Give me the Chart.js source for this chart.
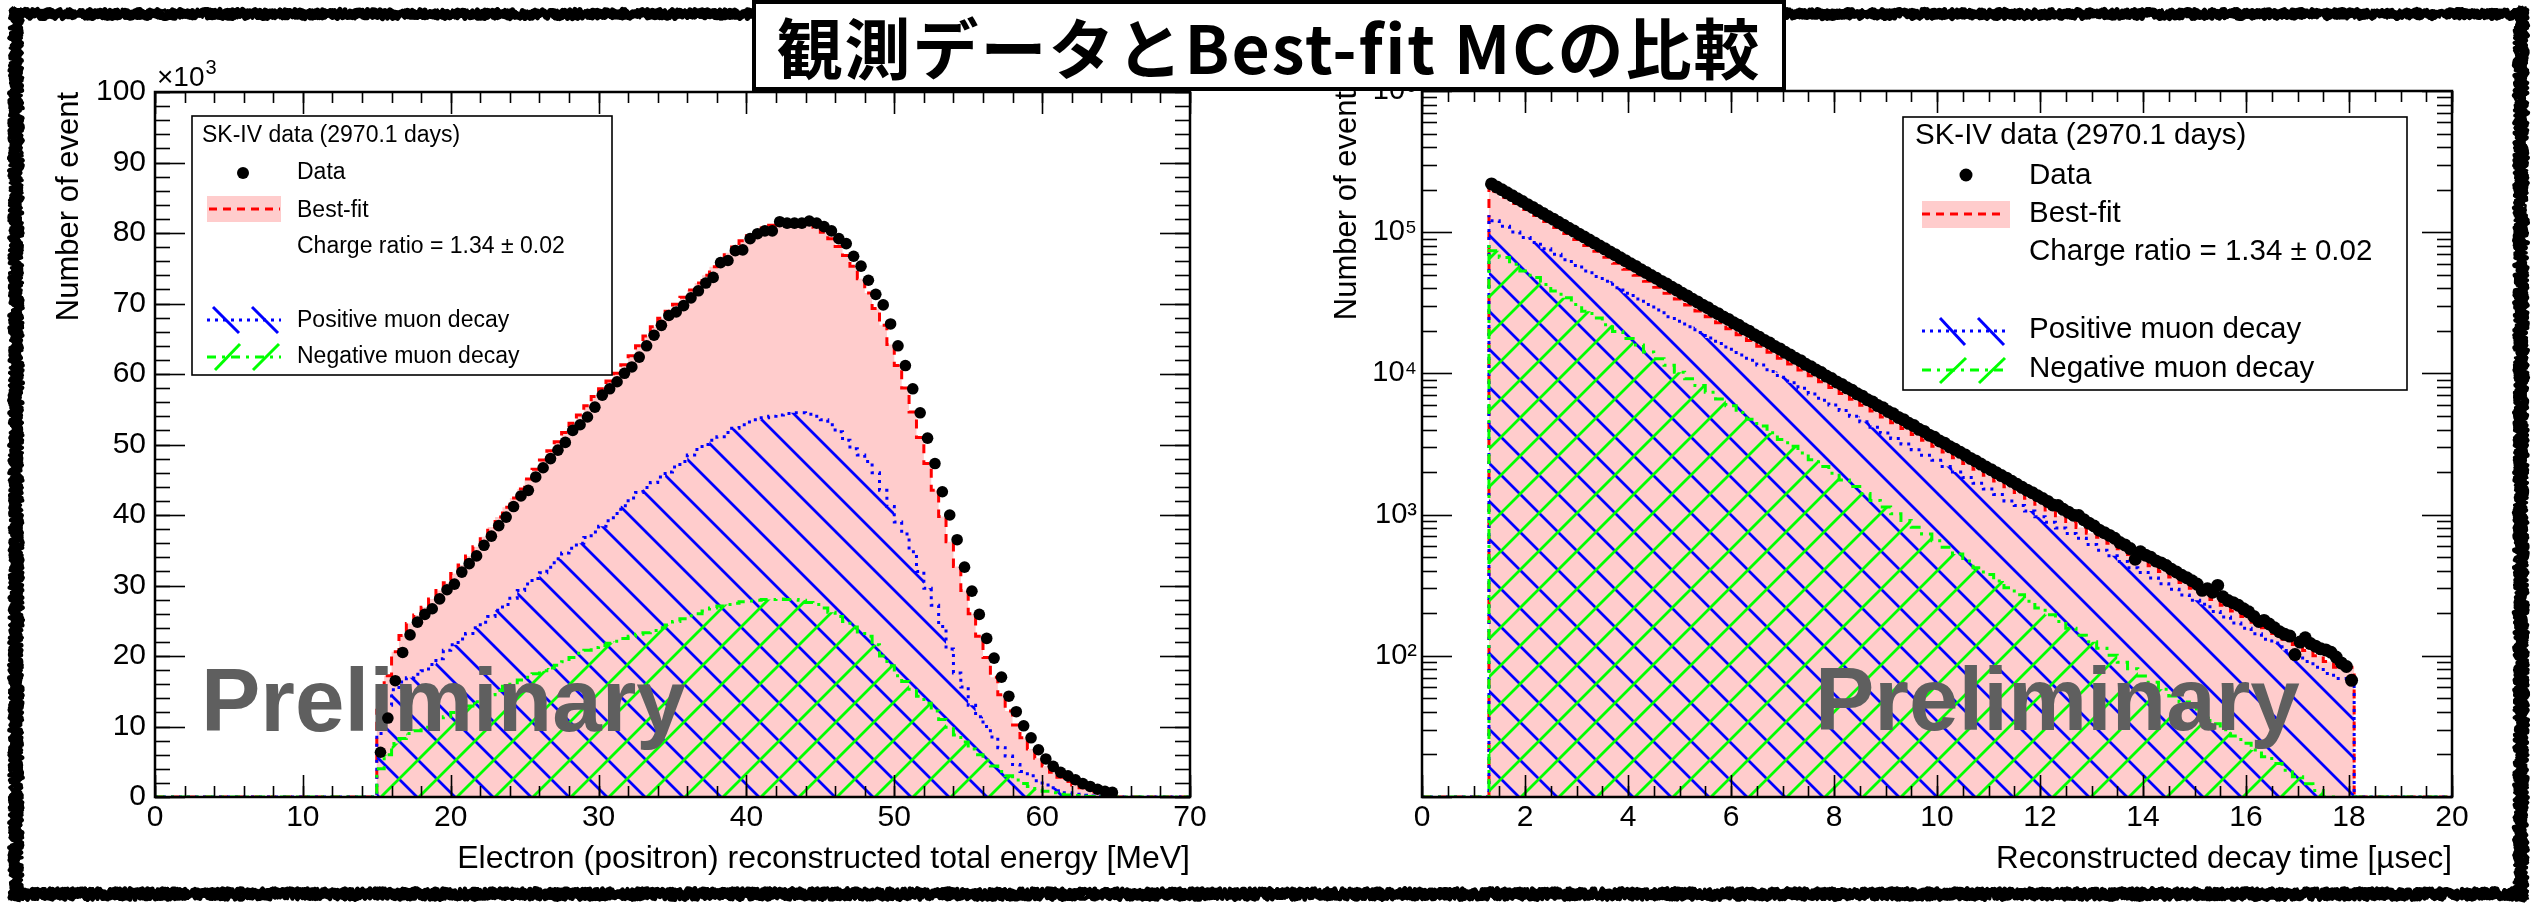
<!DOCTYPE html>
<html>
<head>
<meta charset="utf-8">
<script src="https://cdn.jsdelivr.net/npm/chart.js@4.4.1/dist/chart.umd.min.js"></script>
<style>
  html, body { margin: 0; padding: 0; background: #fff; }
  #page { position: relative; width: 2537px; height: 905px; overflow: hidden; background: #fff; }
  #page canvas { position: absolute; left: 0; top: 0; }
  #title {
    position: absolute; left: 752px; top: 0; width: 1026px; height: 83px;
    border: 4px solid #000; background: #fff; color: #000;
    font-family: 'Noto Sans CJK JP', sans-serif; font-weight: 700; font-size: 66px;
    line-height: 83px; text-align: center; white-space: nowrap; letter-spacing: 2px;
  }
</style>
</head>
<body>
<div id="page">
  <canvas id="frame" width="2537" height="905"></canvas>
  <canvas id="energyChart" width="2537" height="905"></canvas>
  <canvas id="timeChart" width="2537" height="905"></canvas>
  <div id="title">観測データとBest-fit MCの比較</div>
</div>
<script>
const FONT = "'Liberation Sans', Arial, sans-serif";

// left: electron energy, 0.5 MeV bins starting at 15 MeV, events in units of 10^3
const energyBinStart = 15;
const energyBinWidth = 0.5;
const energyData = [
  6.35, 11.2, 16.5, 20.5, 23.0, 24.8, 25.9, 26.7, 28.1, 29.4,
  30.2, 31.9, 33.1, 34.2, 35.7, 37.0, 38.5, 39.7, 41.2, 42.7,
  43.5, 45.4, 46.7, 48.0, 49.2, 50.3, 52.0, 52.8, 53.9, 55.3,
  57.0, 57.9, 58.9, 60.1, 61.0, 62.4, 64.0, 65.5, 66.9, 68.3,
  68.8, 69.7, 70.8, 71.8, 72.9, 73.7, 75.8, 76.1, 77.5, 77.6,
  79.2, 79.9, 80.3, 80.3, 81.6, 81.4, 81.4, 81.4, 81.7, 81.4,
  80.9, 80.3, 79.2, 78.5, 76.7, 75.3, 73.3, 71.3, 69.8, 67.1,
  64.0, 61.2, 57.9, 54.5, 50.9, 47.3, 43.3, 40.0, 36.5, 32.6,
  29.2, 25.9, 22.5, 19.7, 17.0, 14.3, 12.1, 10.1, 8.4, 6.7,
  5.4, 4.35, 3.5, 3.0, 2.45, 1.9, 1.5, 1.1, 0.8, 0.65
];
const energyBestFit = [
  5.9, 12.3, 17.2, 20.6, 22.9, 24.6, 25.8, 26.9, 28.1, 29.3,
  30.4, 31.7, 32.9, 34.2, 35.5, 36.9, 38.3, 39.7, 41.1, 42.4,
  43.7, 45.1, 46.5, 47.8, 49.1, 50.4, 51.7, 53.0, 54.2, 55.5,
  56.8, 57.9, 59.0, 60.1, 61.3, 62.6, 64.0, 65.4, 66.7, 67.9,
  68.9, 69.9, 70.9, 71.9, 72.9, 74.0, 75.2, 76.2, 77.2, 78.0,
  78.9, 79.6, 80.2, 80.7, 81.1, 81.4, 81.6, 81.7, 81.6, 81.3,
  80.8, 80.1, 79.2, 78.1, 76.8, 75.3, 73.5, 71.5, 69.3, 66.9,
  64.2, 61.2, 58.0, 54.6, 51.0, 47.3, 43.5, 39.8, 36.2, 32.7,
  29.3, 26.0, 22.8, 19.8, 17.0, 14.5, 12.2, 10.2, 8.4, 6.8,
  5.5, 4.4, 3.5, 2.8, 2.2, 1.7, 1.3, 1.0, 0.7, 0.5
];
const energyPositive = [
  4.5, 9.0, 13.0, 15.2, 16.3, 16.9, 17.4, 17.9, 18.8, 19.6,
  20.8, 21.6, 22.4, 23.2, 24.0, 24.8, 25.6, 26.5, 27.3, 28.2,
  29.3, 30.2, 31.0, 31.8, 32.6, 33.8, 34.6, 35.3, 36.0, 36.8,
  37.6, 38.4, 39.2, 40.2, 41.3, 42.4, 43.2, 43.9, 44.6, 45.4,
  46.1, 46.8, 47.6, 48.5, 49.3, 50.0, 50.6, 51.1, 51.7, 52.3,
  52.8, 53.2, 53.5, 53.8, 54.0, 54.2, 54.4, 54.5, 54.5, 54.3,
  54.0, 53.5, 52.8, 51.8, 50.6, 49.4, 48.5, 47.6, 46.0, 43.5,
  41.2, 39.0, 37.3, 34.8, 32.0, 29.6, 27.2, 24.2, 21.0, 17.6,
  15.6, 13.0, 11.4, 10.0, 8.5, 7.0, 5.8, 4.6, 3.6, 3.0,
  2.3, 1.7, 1.3, 0.9, 0.6, 0.4, 0.25, 0.15, 0.1, 0.05
];
const energyNegative = [
  2.5, 4.0, 6.0, 7.6, 8.3, 9.0, 9.4, 9.9, 10.5, 11.0,
  11.4, 12.0, 12.5, 12.9, 13.5, 14.0, 14.5, 15.1, 15.7, 16.2,
  16.6, 17.0, 17.5, 17.9, 18.3, 18.7, 19.2, 19.8, 20.4, 20.8,
  21.2, 21.5, 21.8, 22.1, 22.5, 22.8, 23.1, 23.3, 23.6, 24.0,
  24.4, 24.9, 25.3, 25.7, 26.0, 26.4, 26.8, 27.1, 27.3, 27.5,
  27.7, 27.8, 27.9, 28.0, 28.0, 28.1, 28.0, 28.0, 27.9, 27.6,
  27.3, 26.8, 26.2, 25.6, 24.9, 24.1, 23.4, 22.8, 21.6, 20.0,
  18.6, 17.2, 16.4, 15.3, 14.3, 13.3, 12.2, 11.0, 9.9, 8.8,
  7.8, 6.8, 6.0, 5.2, 4.4, 3.6, 3.0, 2.4, 1.9, 1.5,
  1.1, 0.8, 0.6, 0.4, 0.3, 0.2, 0.12, 0.08, 0.05, 0.03
];
const energyTicks = [0, 10, 20, 30, 40, 50, 60, 70];
const countTicks = [0, 10, 20, 30, 40, 50, 60, 70, 80, 90, 100];

// right: decay time; data in 0.1 usec bins, MC in 0.2 usec bins, both from 1.3 usec
const timeBinStart = 1.3;
const timeDataBinWidth = 0.1;
const timeMcBinWidth = 0.2;
const timeData = [
  219800, 209300, 199800, 190000, 181500, 172600, 164900, 156700, 149800, 142300,
  135900, 129200, 123600, 117400, 112200, 106600, 101900, 96800, 92500, 87900,
  84000, 79800, 76300, 72500, 69300, 65800, 62900, 59800, 57200, 54300,
  51900, 49300, 47200, 44800, 42900, 40700, 38900, 36900, 35400, 33500,
  32100, 30400, 29200, 27600, 26500, 25100, 24100, 22800, 21900, 20700,
  19900, 18800, 18000, 17100, 16400, 15500, 14900, 14100, 13500, 12800,
  12300, 11600, 11150, 10550, 10130, 9580, 9200, 8700, 8360, 7900,
  7600, 7170, 6900, 6510, 6270, 5920, 5700, 5370, 5170, 4880,
  4700, 4430, 4270, 4020, 3880, 3650, 3530, 3320, 3200, 3020,
  2900, 2760, 2640, 2500, 2400, 2280, 2170, 2080, 1980, 1890,
  1810, 1720, 1640, 1560, 1490, 1430, 1360, 1300, 1240, 1170,
  1160, 1090, 1040, 990, 984, 920, 870, 830, 776, 745,
  712, 680, 634, 610, 575, 483, 545, 516, 498, 470,
  455, 436, 410, 392, 372, 357, 340, 322, 291, 298,
  282, 315, 262, 246, 238, 228, 215, 205, 190, 175,
  178, 168, 158, 148, 142, 138, 102, 125, 134, 122,
  117, 112, 110, 106, 98, 89, 84, 67
];
const timeBestFit = [
  214700, 194600, 176400, 159900, 145000, 131500, 119200, 108100, 98100, 88900,
  80600, 73200, 66400, 60200, 54600, 49600, 45000, 40800, 37000, 33600,
  30550, 27700, 25150, 22880, 20700, 18780, 17130, 15540, 14100, 12800,
  11650, 10580, 9610, 8730, 7930, 7210, 6560, 5950, 5410, 4920,
  4475, 4070, 3690, 3360, 3054, 2776, 2525, 2300, 2091, 1897,
  1728, 1573, 1431, 1303, 1184, 1077, 980, 892, 811, 739,
  690, 628, 572, 522, 476, 434, 396, 361, 330, 301,
  274, 250, 228, 208, 190, 173, 158, 144, 131, 120,
  109, 100, 91, 83
];
const timePositive = [
  132100, 120600, 110100, 100500, 91800, 84500, 76500, 69800, 63800, 58200,
  53100, 48500, 44900, 40400, 36900, 33700, 30800, 28100, 25200, 23400,
  21400, 19500, 17800, 16300, 14800, 13500, 12400, 11450, 10300, 9400,
  8600, 7850, 7160, 6450, 5970, 5450, 4980, 4540, 4150, 3790,
  3460, 3160, 2880, 2630, 2430, 2190, 2000, 1830, 1670, 1520,
  1390, 1250, 1160, 1060, 966, 882, 805, 735, 680, 613,
  560, 511, 466, 420, 389, 355, 324, 296, 270, 247,
  232, 206, 188, 171, 157, 143, 131, 123, 109, 99,
  91, 83, 75, 69
];
const timeNegative = [
  82600, 74000, 66300, 59400, 53200, 47700, 42700, 38300, 34300, 30700,
  27500, 24700, 22100, 19800, 17700, 15900, 14200, 12700, 11400, 10200,
  9150, 8200, 7350, 6580, 5900, 5280, 4730, 4240, 3800, 3400,
  3050, 2730, 2450, 2190, 1960, 1760, 1580, 1410, 1260, 1130,
  1015, 909, 814, 730, 654, 586, 525, 470, 421, 377,
  338, 303, 271, 243, 218, 195, 175, 157, 140, 126,
  113, 101, 90, 81, 72, 65, 58, 52, 47, 42,
  37, 33, 30, 27, 24, 21.5, 19.3, 17.3, 15.5, 13.9,
  12.4, 11.1, 10, 9
];
const timeTicks = [0, 2, 4, 6, 8, 10, 12, 14, 16, 18, 20];
const logTicks = [1e2, 1e3, 1e4, 1e5, 1e6];
const logLabels = { 100: '10²', 1000: '10³', 10000: '10⁴', 100000: '10⁵', 1000000: '10⁶' };

const legendHeader = 'SK-IV data (2970.1 days)';
const legendItems = ['Data', 'Best-fit', 'Charge ratio = 1.34 ± 0.02', 'Positive muon decay', 'Negative muon decay'];

Chart.defaults.font.family = FONT;
Chart.defaults.color = '#000';

function range(a, b, step) {
  const out = [];
  for (let v = a; v <= b + 1e-9; v += step) out.push(+v.toFixed(6));
  return out;
}

function logMinor(lo, hi) {
  const out = [];
  for (let d = lo; d < hi; d *= 10) for (let m = 2; m <= 9; m++) out.push(m * d);
  return out;
}

// histogram outline as a stepped line: along the floor, up the first edge, across the bins, down the last edge
function stepData(start, width, values, lo, hi, floor) {
  const pts = [{ x: lo, y: floor }, { x: start, y: floor }];
  values.forEach((v, i) => pts.push({ x: start + i * width, y: v }));
  const end = start + values.length * width;
  pts.push({ x: end, y: values[values.length - 1] }, { x: end, y: floor }, { x: hi, y: floor });
  return pts;
}

function pointData(start, width, values) {
  return values.map((v, i) => ({ x: start + (i + 0.5) * width, y: v }));
}

function hatch(canvasId, color, dir) {
  const s = 38;
  const tile = document.createElement('canvas');
  tile.width = s; tile.height = s;
  const g = tile.getContext('2d');
  g.strokeStyle = color;
  g.lineWidth = 2.8;
  g.beginPath();
  for (let k = -1; k <= 1; k++) {
    if (dir === 'down') { g.moveTo(-2, k * s - 2); g.lineTo(s + 2, s + k * s + 2); }
    else { g.moveTo(-2, s + k * s + 2); g.lineTo(s + 2, k * s - 2); }
  }
  g.stroke();
  return document.getElementById(canvasId).getContext('2d').createPattern(tile, 'repeat');
}

function histDataset(label, data, color, dash, fill, order) {
  return {
    label, data, order,
    stepped: 'after', tension: 0,
    borderColor: color, borderWidth: 3, borderDash: dash, borderCapStyle: 'butt',
    pointRadius: 0, fill: 'start', backgroundColor: fill
  };
}

function dotDataset(data, radius) {
  return {
    label: 'Data', data, order: 0, showLine: false,
    pointRadius: radius, pointBackgroundColor: '#000', pointBorderColor: '#000', pointBorderWidth: 0
  };
}

function seg(ctx, s, color, dash, width) {
  ctx.save();
  ctx.strokeStyle = color; ctx.lineWidth = width; ctx.setLineDash(dash);
  ctx.beginPath(); ctx.moveTo(s[0], s[1]); ctx.lineTo(s[2], s[3]); ctx.stroke();
  ctx.restore();
}

function drawLegend(ctx, L) {
  ctx.save();
  ctx.fillStyle = '#fff';
  ctx.fillRect(L.box[0], L.box[1], L.box[2], L.box[3]);
  ctx.strokeStyle = '#000'; ctx.lineWidth = 1.6;
  ctx.strokeRect(L.box[0], L.box[1], L.box[2], L.box[3]);
  ctx.fillStyle = '#000';
  ctx.font = `${L.size}px ${FONT}`;
  ctx.textBaseline = 'alphabetic';
  ctx.textAlign = 'left';
  ctx.fillText(legendHeader, L.headerX, L.headerY);
  legendItems.forEach((t, i) => ctx.fillText(t, L.textX, L.rows[i]));
  ctx.beginPath(); ctx.arc(L.dot[0], L.dot[1], L.dot[2], 0, Math.PI * 2); ctx.fill();
  ctx.fillStyle = '#ffcccc';
  ctx.fillRect(L.pink[0], L.pink[1], L.pink[2], L.pink[3]);
  seg(ctx, L.red, '#ff0000', [8, 6], 3);
  seg(ctx, L.blue, '#0000ff', [3, 5], 3);
  L.blueHatch.forEach(s => seg(ctx, s, '#0000ff', [], 3));
  seg(ctx, L.green, '#00ff00', [9, 6, 3, 6], 3);
  L.greenHatch.forEach(s => seg(ctx, s, '#00ff00', [], 3));
  ctx.restore();
}

const decor = {
  id: 'decor',
  beforeDatasetDraw(chart, args, o) {
    if (args.index !== 0) return;
    const ctx = chart.ctx;
    ctx.save();
    ctx.font = `bold 89px ${FONT}`;
    ctx.fillStyle = '#5f5f5f';
    ctx.textAlign = 'left';
    ctx.textBaseline = 'alphabetic';
    ctx.fillText('Preliminary', o.prelim[0], o.prelim[1]);
    ctx.restore();
  },
  afterDatasetsDraw(chart, args, o) {
    const { ctx, chartArea: a, scales } = chart;
    const line = (x1, y1, x2, y2) => { ctx.beginPath(); ctx.moveTo(x1, y1); ctx.lineTo(x2, y2); ctx.stroke(); };
    ctx.save();
    ctx.strokeStyle = '#000';
    ctx.lineWidth = 1.6;
    const xTicks = (vals, len) => vals.forEach(v => {
      const p = Math.round(scales.x.getPixelForValue(v)) + 0.5;
      line(p, a.bottom, p, a.bottom - len);
      line(p, a.top, p, a.top + len);
    });
    const yTicks = (vals, len) => vals.forEach(v => {
      const p = Math.round(scales.y.getPixelForValue(v)) + 0.5;
      line(a.left, p, a.left + len, p);
      line(a.right, p, a.right - len, p);
    });
    xTicks(o.xMajor, 22); xTicks(o.xMinor, 11);
    yTicks(o.yMajor, 30); yTicks(o.yMinor, 15);
    ctx.lineWidth = 2.5;
    ctx.strokeRect(a.left, a.top, a.right - a.left, a.bottom - a.top);
    ctx.restore();
  },
  afterDraw(chart, args, o) {
    const { ctx, chartArea: a } = chart;
    drawLegend(ctx, o.legend);
    ctx.save();
    ctx.fillStyle = '#000';
    ctx.font = `${o.xTitleSize}px ${FONT}`;
    ctx.textAlign = 'right';
    ctx.textBaseline = 'alphabetic';
    ctx.fillText(o.xTitle, a.right, 868);
    ctx.save();
    ctx.translate(o.yTitleX, a.top);
    ctx.rotate(-Math.PI / 2);
    ctx.font = `31px ${FONT}`;
    ctx.fillText('Number of event', 0, 0);
    ctx.restore();
    if (o.multiplier) {
      ctx.textAlign = 'left';
      ctx.font = `28px ${FONT}`;
      ctx.fillText(o.multiplier[0], a.left + 2, 86);
      const w = ctx.measureText(o.multiplier[0]).width;
      ctx.font = `20px ${FONT}`;
      ctx.fillText(o.multiplier[1], a.left + 3 + w, 74);
    }
    ctx.restore();
  }
};

function baseOptions(padding, extra) {
  return {
    responsive: false,
    animation: false,
    events: [],
    layout: { padding },
    plugins: { legend: { display: false }, tooltip: { enabled: false }, decor: extra },
    scales: {}
  };
}

// left chart
const energyOptions = baseOptions({ left: 0, top: 92, right: 1347, bottom: 0 }, {
  prelim: [201, 731],
  xMajor: energyTicks, xMinor: range(0, 70, 2),
  yMajor: countTicks, yMinor: range(0, 100, 2),
  xTitle: 'Electron (positron) reconstructed total energy [MeV]',
  xTitleSize: 32,
  yTitleX: 78,
  multiplier: ['×10', '3'],
  legend: {
    box: [192, 116, 420, 259], size: 23,
    headerX: 202, headerY: 142, textX: 297,
    rows: [179, 217, 253, 327, 363],
    dot: [243, 173, 6],
    pink: [207, 196, 74, 26],
    red: [209, 209, 280, 209],
    blue: [207, 320, 281, 320],
    blueHatch: [[213, 307, 239, 333], [252, 307, 278, 333]],
    green: [207, 357, 281, 357],
    greenHatch: [[215, 370, 240, 344], [253, 370, 279, 344]]
  }
});
energyOptions.scales = {
  x: {
    type: 'linear', min: 0, max: 70,
    afterBuildTicks: s => { s.ticks = energyTicks.map(v => ({ value: v })); },
    afterFit: s => { s.height = 108; },
    grid: { display: false, drawTicks: false }, border: { display: false },
    ticks: { font: { size: 30 }, padding: 3, maxRotation: 0, autoSkip: false }
  },
  y: {
    type: 'linear', min: 0, max: 100,
    afterBuildTicks: s => { s.ticks = countTicks.map(v => ({ value: v })); },
    afterFit: s => { s.width = 155; },
    grid: { display: false, drawTicks: false }, border: { display: false },
    ticks: { font: { size: 30 }, padding: 9, autoSkip: false }
  }
};

new Chart(document.getElementById('energyChart'), {
  type: 'line',
  data: {
    datasets: [
      dotDataset(pointData(energyBinStart, energyBinWidth, energyData), 5.8),
      histDataset('Best-fit', stepData(energyBinStart, energyBinWidth, energyBestFit, 0, 70, 0), '#ff0000', [9, 7], '#ffcccc', 3),
      histDataset('Positive muon decay', stepData(energyBinStart, energyBinWidth, energyPositive, 0, 70, 0), '#0000ff', [3, 5], hatch('energyChart', '#0000ff', 'down'), 2),
      histDataset('Negative muon decay', stepData(energyBinStart, energyBinWidth, energyNegative, 0, 70, 0), '#00ff00', [10, 6, 3, 6], hatch('energyChart', '#00ff00', 'up'), 1)
    ]
  },
  options: energyOptions,
  plugins: [decor]
});

// right chart
const timeOptions = baseOptions({ left: 0, top: 91, right: 85, bottom: 0 }, {
  prelim: [1815, 730],
  xMajor: timeTicks, xMinor: range(0, 20, 0.5),
  yMajor: [10].concat(logTicks), yMinor: logMinor(10, 1e6),
  xTitle: 'Reconstructed decay time [µsec]',
  xTitleSize: 31.4,
  yTitleX: 1356,
  multiplier: null,
  legend: {
    box: [1903, 117, 504, 273], size: 29.5,
    headerX: 1915, headerY: 144, textX: 2029,
    rows: [183.5, 222, 259.5, 338, 377],
    dot: [1966, 175, 6.5],
    pink: [1922, 201, 88, 27],
    red: [1922, 214, 2004, 214],
    blue: [1922, 331, 2006, 331],
    blueHatch: [[1940, 318, 1965, 345], [1978, 318, 2004, 345]],
    green: [1922, 370, 2006, 370],
    greenHatch: [[1940, 383, 1966, 358], [1979, 383, 2005, 358]]
  }
});
timeOptions.scales = {
  x: {
    type: 'linear', min: 0, max: 20,
    afterBuildTicks: s => { s.ticks = timeTicks.map(v => ({ value: v })); },
    afterFit: s => { s.height = 108; },
    grid: { display: false, drawTicks: false }, border: { display: false },
    ticks: { font: { size: 30 }, padding: 3, maxRotation: 0, autoSkip: false }
  },
  y: {
    type: 'logarithmic', min: 10, max: 1e6,
    afterBuildTicks: s => { s.ticks = logTicks.map(v => ({ value: v })); },
    afterFit: s => { s.width = 1422; },
    grid: { display: false, drawTicks: false }, border: { display: false },
    ticks: { font: { size: 29 }, padding: 5, autoSkip: false, callback: v => logLabels[v] || '' }
  }
};

new Chart(document.getElementById('timeChart'), {
  type: 'line',
  data: {
    datasets: [
      dotDataset(pointData(timeBinStart, timeDataBinWidth, timeData), 6.5),
      histDataset('Best-fit', stepData(timeBinStart, timeMcBinWidth, timeBestFit, 0, 20, 10), '#ff0000', [9, 7], '#ffcccc', 3),
      histDataset('Positive muon decay', stepData(timeBinStart, timeMcBinWidth, timePositive, 0, 20, 10), '#0000ff', [3, 5], hatch('timeChart', '#0000ff', 'down'), 2),
      histDataset('Negative muon decay', stepData(timeBinStart, timeMcBinWidth, timeNegative, 0, 20, 10), '#00ff00', [10, 6, 3, 6], hatch('timeChart', '#00ff00', 'up'), 1)
    ]
  },
  options: timeOptions,
  plugins: [decor]
});

// rough hand-drawn frame around the whole slide
(function roughFrame() {
  const g = document.getElementById('frame').getContext('2d');
  let seed = 12345;
  const rnd = () => (seed = (seed * 16807) % 2147483647) / 2147483647;
  g.strokeStyle = '#000';
  g.lineJoin = 'round';
  const edge = (x1, y1, x2, y2, spread) => {
    const len = Math.hypot(x2 - x1, y2 - y1);
    const n = Math.ceil(len / 2.5);
    const nx = -(y2 - y1) / len, ny = (x2 - x1) / len;
    for (let pass = 0; pass < 7; pass++) {
      g.lineWidth = 2.5 + rnd() * 3;
      g.beginPath();
      for (let i = 0; i <= n; i++) {
        const t = i / n, off = (rnd() - 0.5) * spread;
        const x = x1 + (x2 - x1) * t + nx * off, y = y1 + (y2 - y1) * t + ny * off;
        if (i) g.lineTo(x, y); else g.moveTo(x, y);
      }
      g.stroke();
    }
  };
  edge(10, 14, 2527, 14, 9);
  edge(2521, 8, 2521, 900, 13);
  edge(2527, 894, 10, 894, 11);
  edge(16, 900, 16, 8, 13);
})();
</script>
</body>
</html>
